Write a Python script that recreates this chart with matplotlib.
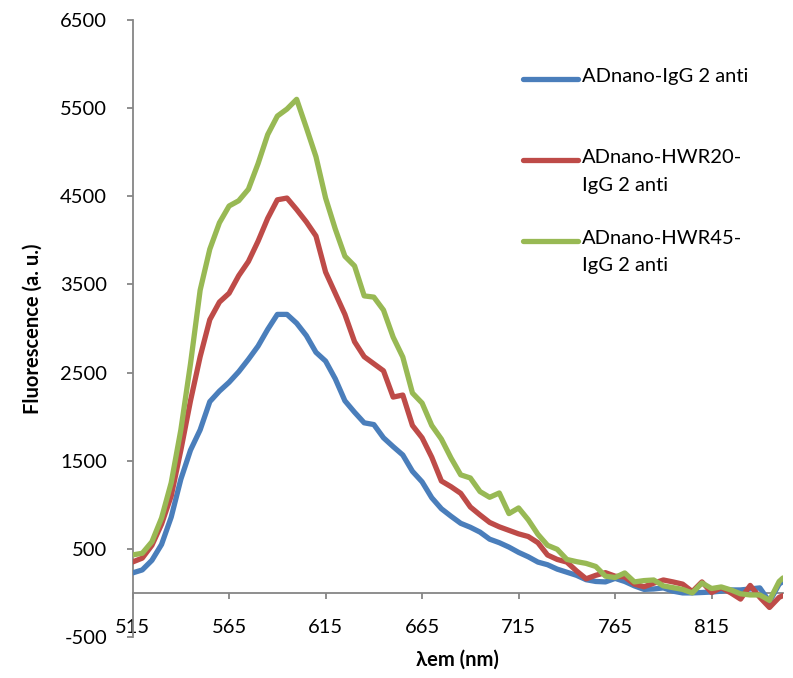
import matplotlib
matplotlib.use("Agg")
import matplotlib.pyplot as plt
from matplotlib.lines import Line2D
import numpy as np

plt.rcParams['font.family'] = ['Lato', 'DejaVu Sans']
plt.rcParams['axes.unicode_minus'] = False

# ---- data ----
wavelength = list(range(515, 851, 5)) + [852]

adnano_igg = [227, 261, 370, 550, 860, 1290, 1620, 1850, 2170, 2290,
              2390, 2510, 2650, 2800, 2990, 3160, 3160, 3060, 2920, 2730,
              2630, 2430, 2180, 2050, 1930, 1910, 1760, 1660, 1565, 1380,
              1260, 1080, 955, 870, 790, 745, 690, 610, 570, 520,
              460, 410, 350, 320, 270, 235, 200, 150, 130, 125,
              165, 130, 80, 40, 45, 57, 20, 0, 0, 5,
              10, 20, 34, 34, 45, 57, -100, 100, 130]

adnano_hwr20 = [351, 395, 540, 780, 1100, 1620, 2180, 2680, 3100, 3300,
                3400, 3600, 3760, 3990, 4250, 4460, 4480, 4350, 4210, 4050,
                3640, 3400, 3160, 2850, 2680, 2600, 2520, 2222, 2245, 1900,
                1760, 1540, 1270, 1205, 1130, 975, 885, 800, 750, 710,
                670, 640, 570, 430, 380, 350, 250, 160, 200, 230,
                190, 181, 100, 70, 110, 147, 125, 100, 15, 125,
                5, 60, 0, -70, 85, -50, -165, -50, -30]

adnano_hwr45 = [431, 450, 580, 850, 1250, 1850, 2600, 3435, 3900, 4200,
                4390, 4450, 4580, 4870, 5200, 5410, 5490, 5600, 5280, 4950,
                4480, 4130, 3820, 3710, 3370, 3356, 3209, 2902, 2676, 2268,
                2154, 1900, 1745, 1530, 1340, 1304, 1150, 1085, 1134, 900,
                964, 830, 665, 540, 495, 380, 355, 335, 300, 190,
                175, 227, 125, 140, 147, 80, 60, 40, 0, 113,
                50, 68, 34, -10, -23, -23, -85, 130, 170]

series_labels = ['ADnano-IgG 2 anti', 'ADnano-HWR20-\nIgG 2 anti', 'ADnano-HWR45-\nIgG 2 anti']
series_colors = ['#4A7EBB', '#BE4B48', '#98B954']
x_ticks = [515, 565, 615, 665, 715, 765, 815]
y_ticks = [-500, 500, 1500, 2500, 3500, 4500, 5500, 6500]

# ---- figure ----
W, H = 793, 678
fig = plt.figure(figsize=(W / 100, H / 100), dpi=100)
left, right, top, bottom = 132.6, 783, 20, 637
ax = fig.add_axes([left / W, 1 - bottom / H, (right - left) / W, (bottom - top) / H])

lw = 3.8
for ys, c in zip([adnano_igg, adnano_hwr20, adnano_hwr45], series_colors):
    ax.plot(wavelength, ys, color=c, lw=lw, solid_joinstyle='round',
            solid_capstyle='round', zorder=3)

ax.set_xlim(515, 852)
ax.set_ylim(-500, 6500)
ax.set_xticks(x_ticks)
ax.set_yticks(y_ticks)

axis_col = '#868686'
for s in ['top', 'right']:
    ax.spines[s].set_visible(False)
ax.spines['bottom'].set_position(('data', 0))
ax.spines['bottom'].set_color(axis_col)
ax.spines['left'].set_color(axis_col)
ax.spines['bottom'].set_linewidth(1.3)
ax.spines['left'].set_linewidth(1.3)

ax.tick_params(axis='both', direction='out', length=4.3, width=1.3,
               color=axis_col, labelsize=14.5, labelcolor='black')
ax.tick_params(axis='x', pad=14.5)
ax.tick_params(axis='y', pad=14.0)

ax.set_xlabel('λem (nm)', fontsize=14.5, fontweight='bold')
ax.set_ylabel('Fluorescence (a. u.)', fontsize=14.5, fontweight='bold')
ax.xaxis.set_label_coords(0.5, -0.037)
ax.xaxis.label.set_va('center')
ax.yaxis.set_label_coords(-0.153, 0.5)
ax.yaxis.label.set_va('center')

# ---- legend (Excel style: marker aligned with first text line) ----
leg_y = [79, 160, 241]
for lab, c, yy in zip(series_labels, series_colors, leg_y):
    fig.add_artist(Line2D([523 / W, 578 / W], [1 - yy / H, 1 - yy / H],
                          transform=fig.transFigure, color=c, lw=lw,
                          solid_capstyle='round'))
    fig.text(582 / W, 1 - (yy - 11) / H, lab, fontsize=14.5, ha='left',
             va='top', linespacing=1.75)

fig.savefig('out.png', dpi=100)
